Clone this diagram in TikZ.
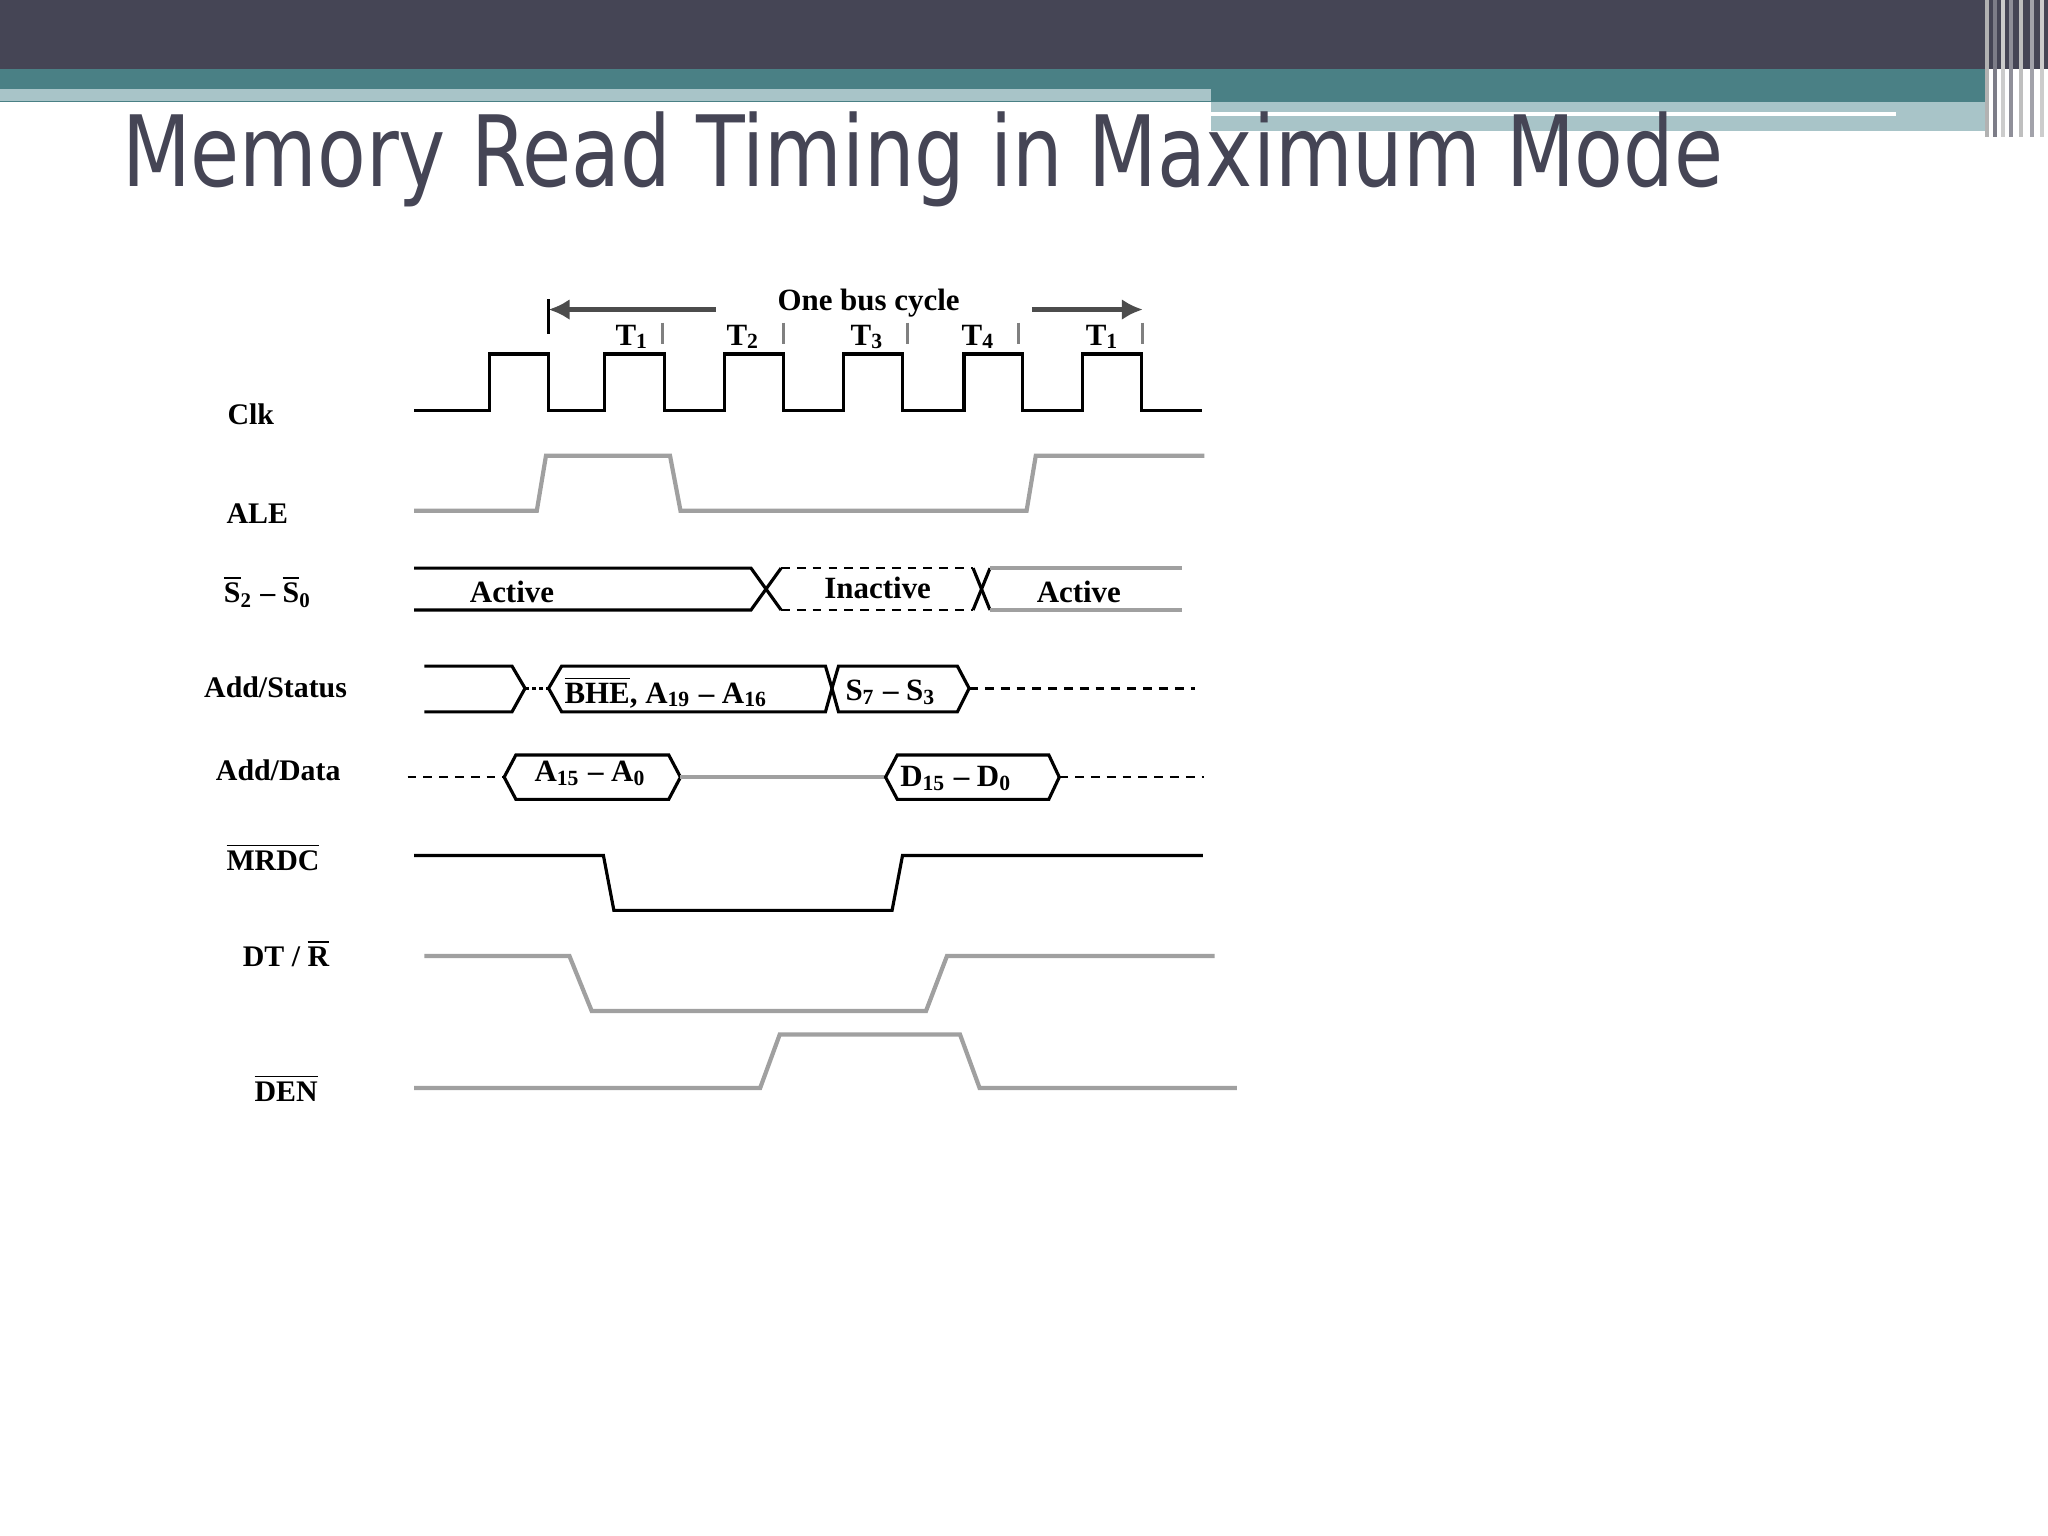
\documentclass[tikz,border=0pt]{standalone}
\usepackage{fontspec}
\setmainfont{Liberation Serif}
\newfontfamily\titlefont{DejaVu Sans Condensed}
\usetikzlibrary{arrows.meta}
\definecolor{dark}{HTML}{454555}
\definecolor{teal}{HTML}{4A8085}
\definecolor{lightb}{HTML}{A8C4C8}
\definecolor{gsig}{HTML}{A0A0A0}
\newcommand{\ol}[1]{$\overline{\mbox{#1}}$}
\begin{document}
\begin{tikzpicture}[x=0.013061cm,y=-0.013061cm,
  blk/.style={line width=0.9pt,black},
  gry/.style={line width=1.2pt,gsig},
  lab/.style={font=\fontsize{8.5}{10}\selectfont\bfseries},
  txt/.style={font=\fontsize{8.8}{10}\selectfont\bfseries},
  dsh/.style={line width=0.7pt,dash pattern=on 2.5pt off 2pt}]
\useasboundingbox (0,0) rectangle (1568,1176);
% banner
\fill[dark] (0,0) rectangle (1568,53);
\fill[teal] (0,53) rectangle (1520,78);
\fill[lightb] (0,68) rectangle (927,77);
\fill[lightb] (927,78) rectangle (1520,100);
\fill[white] (927,86) rectangle (1452,89);
\foreach \x/\c in {1520/gray!60,1526/dark!70,1532/gray!40,1538/dark!60,1546/gray!50,1554/dark!50,1562/gray!40}
  \fill[\c] (\x,0) rectangle (\x+3,105);
\node[anchor=base west,inner sep=0,text=dark,xscale=0.9,font=\titlefont\fontsize{28}{30}\selectfont] (title) at (93,143) {Memory Read Timing in Maximum Mode};
% labels
\node[lab] (lclk) at (192,317) {Clk};
\node[lab] (lale) at (197,393) {ALE};
\node[lab] (ls) at (205,453) {\ol{S}\textsubscript{2} -- \ol{S}\textsubscript{0}};
\node[lab] (las) at (211,526) {Add/Status};
\node[lab] (lad) at (213,590) {Add/Data};
\node[lab] (lmr) at (209,656) {\ol{MRDC}};
\node[lab] (ldt) at (219,730) {DT / \ol{R}};
\node[lab] (lden) at (219,833) {\ol{DEN}};
% bus cycle
\node[txt] (obc) at (665,232) {One bus cycle};
\coordinate (al) at (420,237); \coordinate (alS) at (548,237);
\coordinate (ar) at (875,237); \coordinate (arS) at (790,237);
\draw[gry,-{Latex[length=6pt,width=6pt]},black!70] (alS) -- (al);
\draw[gry,-{Latex[length=6pt,width=6pt]},black!70] (arS) -- (ar);
\coordinate (v1) at (420,229); \coordinate (v2) at (420,256);
\draw[line width=0.8pt] (v1) -- (v2);
\foreach \n/\x/\t in {a/484/1,b/569/2,c/664/3,d/749/4,e/844/1}
  \node[txt] (T\n) at (\x,258) {T\textsubscript{\t}};
\foreach \x in {507,600,695,780,875}
  \draw[line width=0.8pt,gray] (\x,247) -- (\x,263);
% clock
\draw[blk] (317,314) -- (375,314) -- (375,271) -- (420,271) -- (420,314) -- (463,314) -- (463,271) -- (509,271) -- (509,314) -- (555,314) -- (555,271) -- (600,271) -- (600,314) -- (646,314) -- (646,271) -- (691,271) -- (691,314) -- (738,314) -- (738,271) -- (783,271) -- (783,314) -- (829,314) -- (829,271) -- (874,271) -- (874,314) -- (920,314);
\draw[gry] (317,391) -- (411,391) -- (418,349) -- (513,349) -- (521,391) -- (786,391) -- (793,349) -- (922,349);
% S2-S0
\draw[blk] (317,435) -- (575,435) -- (598,467);
\draw[blk] (317,467) -- (575,467) -- (598,435);
\draw[dsh] (598,435) -- (745,435);
\draw[dsh] (598,467) -- (745,467);
\draw[blk] (745,435) -- (758,467);
\draw[blk] (745,467) -- (758,435);
\draw[gry] (758,435) -- (905,435);
\draw[gry] (758,467) -- (905,467);
\node[txt] (act1) at (392,453) {Active};
\node[txt] (inact) at (672,450) {Inactive};
\node[txt] (act2) at (826,453) {Active};
% Add/Status
\draw[blk] (325,510) -- (392,510) -- (402,527) -- (392,545) -- (325,545);
\draw[line width=0.8pt,dash pattern=on 1pt off 1pt] (402,527) -- (420,527);
\draw[blk] (632,510) -- (430,510) -- (420,527) -- (430,545) -- (632,545) -- (637,527) -- cycle;
\draw[blk] (642,510) -- (733,510) -- (742,527) -- (733,545) -- (642,545) -- (637,527) -- cycle;
\draw[dsh] (742,527) -- (915,527);
\node[txt] (bhe) at (510,530) {\ol{BHE}, A\textsubscript{19} -- A\textsubscript{16}};
\node[txt] (s73) at (682,530) {S\textsubscript{7} -- S\textsubscript{3}};
% Add/Data
\draw[dsh] (312,595) -- (386,595);
\draw[blk] (386,595) -- (395,578) -- (512,578) -- (521,595) -- (512,612) -- (395,612) -- cycle;
\draw[gry] (521,595) -- (678,595);
\draw[blk] (678,595) -- (687,578) -- (803,578) -- (811,595) -- (803,612) -- (687,612) -- cycle;
\draw[dsh] (811,595) -- (922,595);
\node[txt] (a150) at (452,592) {A\textsubscript{15} -- A\textsubscript{0}};
\node[txt] (d150) at (732,596) {D\textsubscript{15} -- D\textsubscript{0}};
% control lines
\draw[blk] (317,655) -- (462,655) -- (470,697) -- (683,697) -- (691,655) -- (921,655);
\draw[gry] (325,732) -- (436,732) -- (453,774) -- (709,774) -- (725,732) -- (930,732);
\draw[gry] (317,833) -- (582,833) -- (597,792) -- (735,792) -- (750,833) -- (947,833);
\end{tikzpicture}
\end{document}
